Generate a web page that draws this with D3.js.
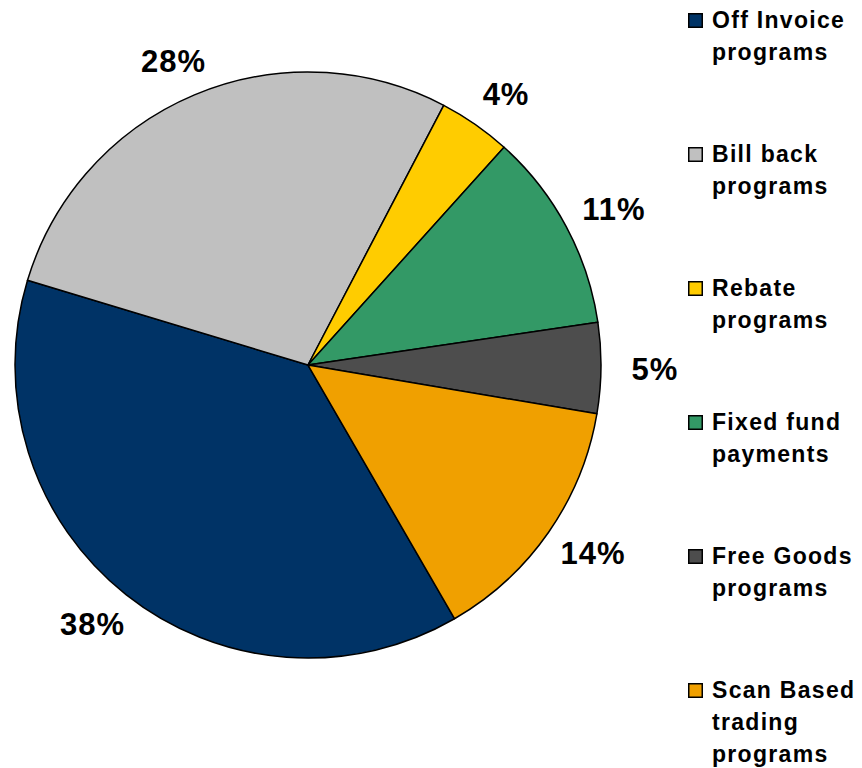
<!DOCTYPE html>
<html>
<head>
<meta charset="utf-8">
<script src="https://cdn.jsdelivr.net/npm/d3@7"></script>
<style>
  html, body { margin: 0; padding: 0; background: #fff; }
  svg { display: block; font-family: "Liberation Sans", Arial, sans-serif; }
</style>
</head>
<body>
<svg id="chart" width="862" height="768"></svg>
<script>
// Trade promotion spend by program type (share of total, %)
const categories = [
  ["Off Invoice", "programs"],
  ["Bill back", "programs"],
  ["Rebate", "programs"],
  ["Fixed fund", "payments"],
  ["Free Goods", "programs"],
  ["Scan Based", "trading", "programs"]
];
const shares = [38, 28, 4, 11, 5, 14];
const sliceColors = ["#003366", "#C0C0C0", "#FFCC00", "#339966", "#4D4D4D", "#F0A000"];

const svg = d3.select("#chart");
const cx = 308, cy = 365, radius = 293;
// labels sit on an ellipse around the pie, slightly wider than tall
const labelRx = 347, labelRy = 330;

const data = shares.map((v, i) => ({ name: categories[i].join(" "), value: v, color: sliceColors[i] }));

// First slice begins in the lower right, slices run clockwise
const start = (150 / 180) * Math.PI;
const pie = d3.pie().sort(null).value(d => d.value)
  .startAngle(start).endAngle(start + 2 * Math.PI);
const arc = d3.arc().innerRadius(0).outerRadius(radius);
const arcs = pie(data);

const g = svg.append("g").attr("transform", `translate(${cx},${cy})`);

g.selectAll("path.slice")
  .data(arcs)
  .join("path")
  .attr("class", "slice")
  .attr("d", arc)
  .attr("fill", d => d.data.color)
  .attr("stroke", "#000")
  .attr("stroke-width", 1.5)
  .attr("stroke-linejoin", "round");

// Percentage labels outside each slice
const mid = d => (d.startAngle + d.endAngle) / 2;
g.selectAll("text.pct")
  .data(arcs)
  .join("text")
  .attr("class", "pct")
  .attr("x", d => Math.sin(mid(d)) * labelRx)
  .attr("y", d => -Math.cos(mid(d)) * labelRy)
  .attr("dy", "0.36em")
  .attr("text-anchor", "middle")
  .attr("font-size", 31)
  .attr("font-weight", "bold")
  .attr("letter-spacing", 1)
  .attr("fill", "#000")
  .text(d => d.data.value + "%");

// Legend
const legend = svg.append("g").attr("transform", "translate(688,28)");
const entryStep = 134, lineStep = 32;
const items = legend.selectAll("g.item")
  .data(data)
  .join("g")
  .attr("class", "item")
  .attr("transform", (d, i) => `translate(0,${i * entryStep})`);

items.append("rect")
  .attr("x", 0.75).attr("y", -14.25)
  .attr("width", 13.5).attr("height", 13.5)
  .attr("fill", d => d.color)
  .attr("stroke", "#000")
  .attr("stroke-width", 1.5);

items.append("text")
  .attr("font-size", 23)
  .attr("font-weight", "bold")
  .attr("letter-spacing", 1.3)
  .attr("fill", "#000")
  .selectAll("tspan")
  .data((d, i) => categories[i])
  .join("tspan")
  .attr("x", 24)
  .attr("y", (t, j) => j * lineStep)
  .text(t => t);
</script>
</body>
</html>
